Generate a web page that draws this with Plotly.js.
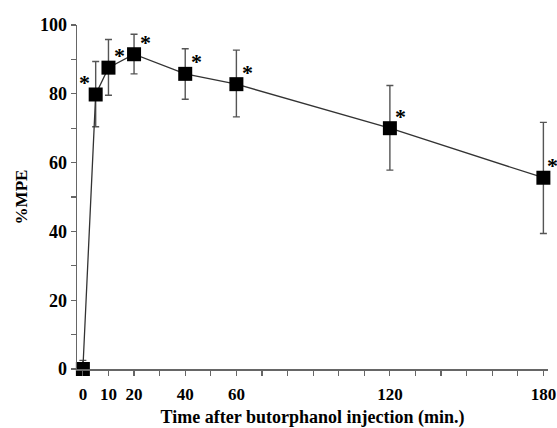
<!DOCTYPE html>
<html>
<head>
<meta charset="utf-8">
<script src="https://cdn.plot.ly/plotly-3.0.1.min.js"></script>
<style>html,body{margin:0;padding:0;background:#fff;}#chart{width:557px;height:428px;}</style>
</head>
<body>
<div id="chart"></div>
<script>
var timeMin = [0, 5, 10, 20, 40, 60, 120, 180];
var mpeMean = [0, 79.8, 87.6, 91.5, 85.8, 82.8, 70.0, 55.6];
var mpeErrUp = [2.5, 9.6, 8.2, 5.8, 7.3, 9.9, 12.4, 16.1];
var mpeErrDown = [2.5, 9.4, 8.0, 5.7, 7.4, 9.5, 12.2, 16.2];
var significant = [false, true, true, true, true, true, true, true];
var xTickVals = [0, 10, 20, 40, 60, 120, 180];
var xTickText = ['0', '10', '20', '40', '60', '120', '180'];

var font = 'Liberation Serif, Times New Roman, serif';

var trace = {
  x: timeMin, y: mpeMean, type: 'scatter', mode: 'lines+markers',
  line: {color: '#333', width: 1.3},
  marker: {symbol: 'square', size: 14, color: '#000'},
  error_y: {type: 'data', symmetric: false, array: mpeErrUp, arrayminus: mpeErrDown,
            color: '#555', thickness: 1.4, width: 3.5},
  cliponaxis: false, hoverinfo: 'none'
};

var ann = [];
for (var i = 0; i < timeMin.length; i++) {
  if (!significant[i]) continue;
  var shift = (i === 1) ? -11 : (i === timeMin.length - 1 ? 9 : 11);
  ann.push({x: timeMin[i], y: mpeMean[i], xref: 'x', yref: 'y', text: '<b>*</b>',
    showarrow: false, xshift: shift, yshift: 12,
    font: {family: font, size: 22, color: '#000'}});
}

var layout = {
  width: 557, height: 428,
  margin: {l: 77, r: 9, t: 25, b: 59},
  paper_bgcolor: '#fff', plot_bgcolor: '#fff',
  showlegend: false,
  xaxis: {range: [-2.3, 181.8], tickmode: 'array', tickvals: xTickVals, ticktext: xTickText,
    ticks: 'outside', ticklen: 5, tickwidth: 1.2, tickcolor: '#666', ticklabelstandoff: 4,
    minor: {tickmode: 'linear', tick0: 0, dtick: 10, ticks: 'outside', ticklen: 5, tickwidth: 1.2, tickcolor: '#666', showgrid: false},
    showline: true, linecolor: '#666', linewidth: 1.5, showgrid: false, zeroline: false,
    tickfont: {family: font, size: 17, color: '#000', weight: 'bold'},
    title: {text: '<b>Time after butorphanol injection (min.)</b>', standoff: 8,
      font: {family: font, size: 18, color: '#000'}}},
  yaxis: {range: [0, 100], tickmode: 'linear', tick0: 0, dtick: 20,
    ticks: 'outside', ticklen: 5, tickwidth: 1.2, tickcolor: '#666',
    minor: {tickmode: 'linear', tick0: 0, dtick: 10, ticks: 'outside', ticklen: 5, tickwidth: 1.2, tickcolor: '#666', showgrid: false},
    showline: true, linecolor: '#666', linewidth: 1.5, showgrid: false, zeroline: false,
    tickfont: {family: font, size: 18, color: '#000', weight: 'bold'},
    title: {text: '<b>%MPE</b>', standoff: 8, font: {family: font, size: 17, color: '#000'}}},
  annotations: ann
};

Plotly.newPlot('chart', [trace], layout, {displayModeBar: false, staticPlot: true});
</script>
</body>
</html>
